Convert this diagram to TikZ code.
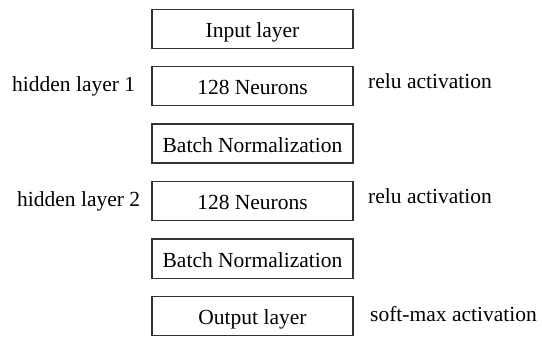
\documentclass[tikz,border=0pt]{standalone}
\usepackage{fontspec}
\setmainfont{Liberation Serif}
\begin{document}
\begin{tikzpicture}[x=1pt,y=-1pt,
  font=\fontsize{21.5}{24}\selectfont,
  layerbox/.style={draw=black!80, line width=1.3pt, minimum width=201pt,
    minimum height=39pt, inner sep=0pt, text height=17.6pt, text depth=0pt,
    anchor=north},
  sidelabel/.style={anchor=base west, inner sep=0pt}]
\useasboundingbox (0,0) rectangle (542,337);
% stacked layers
\node[layerbox] (input) at (252.5,9)   {Input layer};
\node[layerbox] (h1)    at (252.5,66)  {128 Neurons};
\node[layerbox] (bn1)   at (252.5,123.5) {Batch Normalization};
\node[layerbox] (h2)    at (252.5,181) {128 Neurons};
\node[layerbox] (bn2)   at (252.5,238.5) {Batch Normalization};
\node[layerbox] (out)   at (252.5,296) {Output layer};
% annotations
\node[sidelabel] (lh1) at (12,92)   {hidden layer 1};
\node[sidelabel] (lh2) at (17,207)  {hidden layer 2};
\node[sidelabel] (a1)  at (368,89)  {relu activation};
\node[sidelabel] (a2)  at (368,204) {relu activation};
\node[sidelabel] (a3)  at (370,321) {soft-max activation};
\end{tikzpicture}
\end{document}
